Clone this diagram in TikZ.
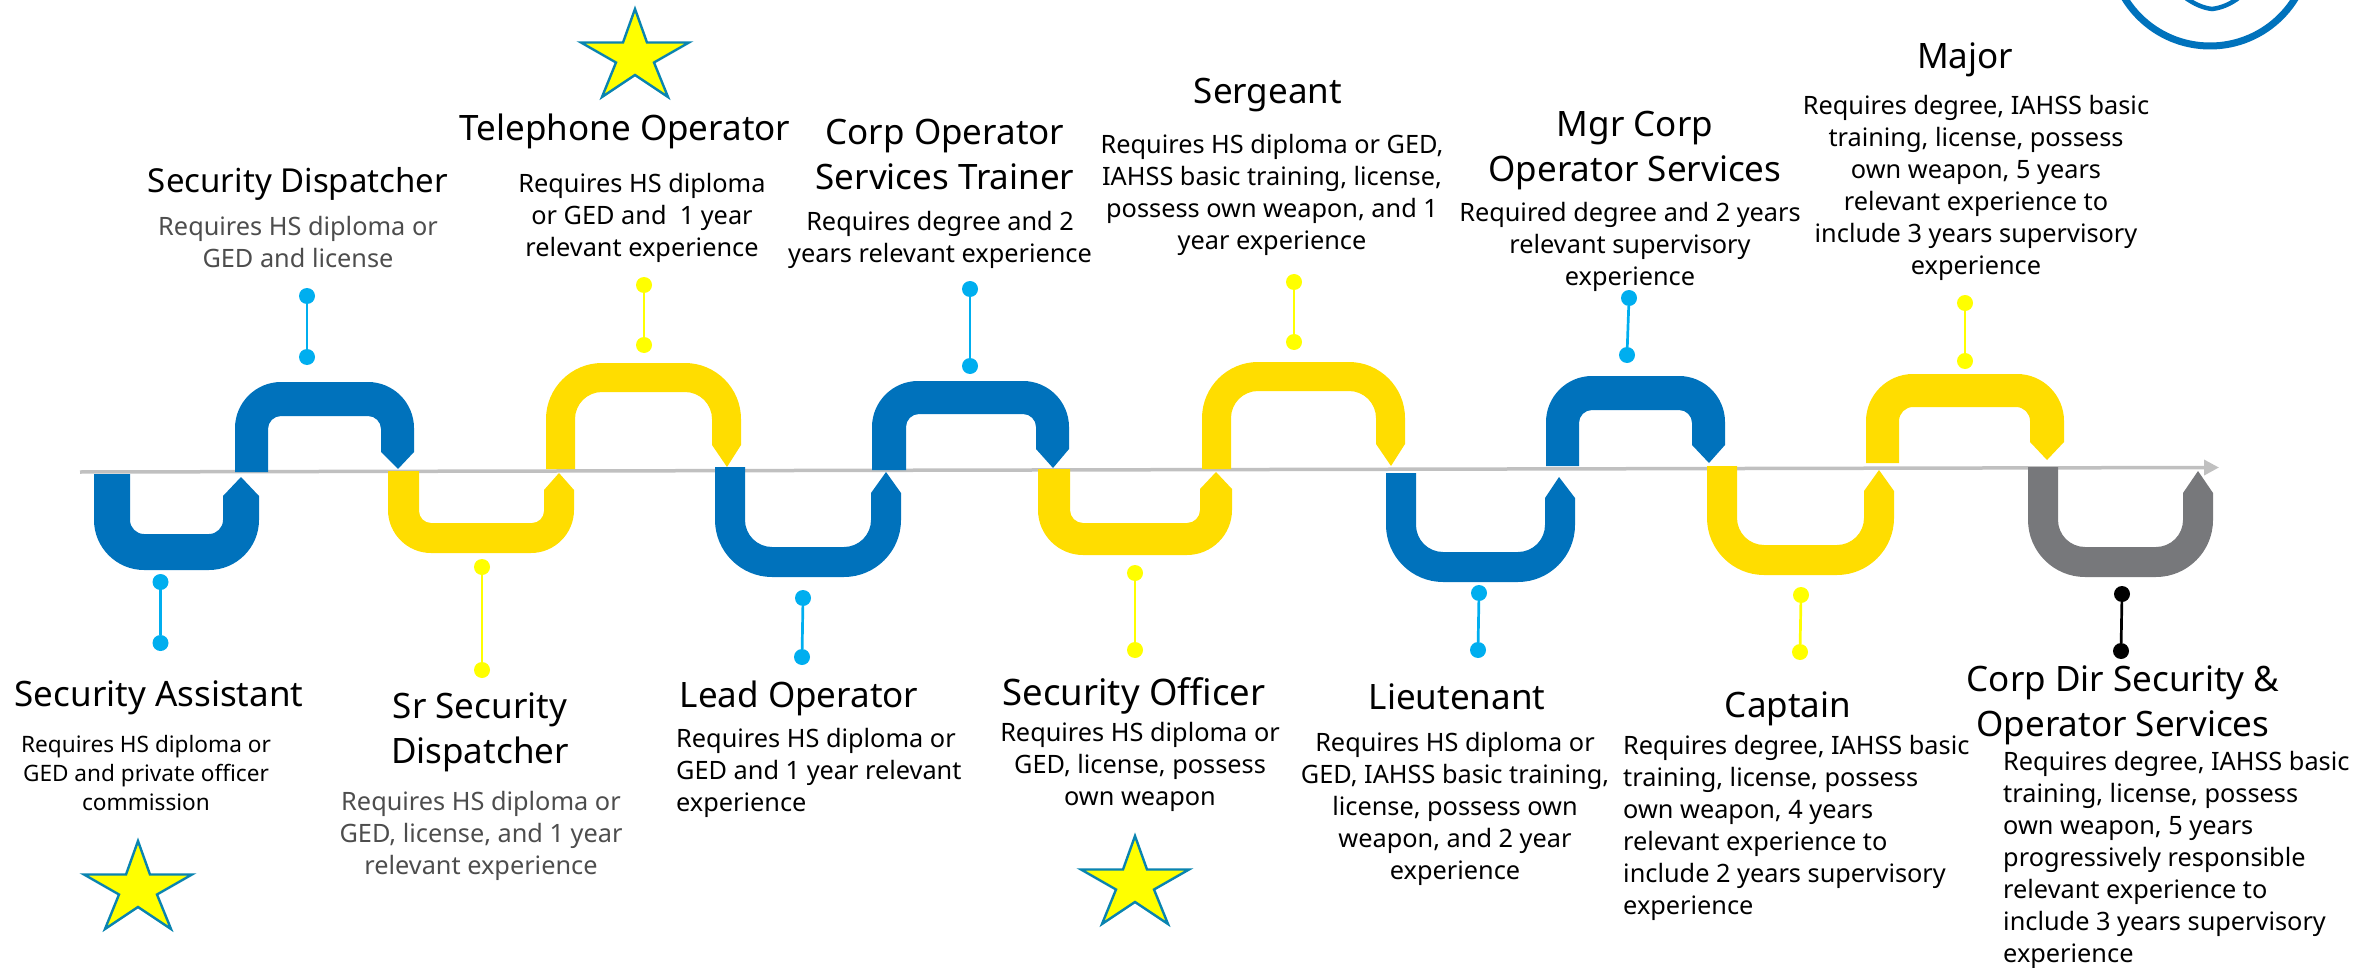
\documentclass[tikz,border=0pt]{standalone}
\usepackage{fontspec}
\setmainfont{Noto Sans}
\usetikzlibrary{arrows.meta}
\definecolor{cblue}{HTML}{0072BC}
\definecolor{cyel}{HTML}{FFDD00}
\definecolor{cgray}{HTML}{77787B}
\definecolor{caxis}{HTML}{C0C0C0}
\definecolor{dblue}{HTML}{00AEEF}
\definecolor{dyel}{HTML}{FFFF00}
\definecolor{cstar}{HTML}{0A84B0}
\definecolor{ctxt}{HTML}{4D4D4D}
\tikzset{
  title/.style={inner sep=0pt,align=center,yshift=-4pt,font=\fontsize{35}{45}\selectfont},
  bodyc/.style={inner sep=0pt,align=center,yshift=-3pt,font=\fontsize{25.3}{32}\selectfont},
  bodyl/.style={inner sep=0pt,align=left,anchor=west,yshift=-3pt,font=\fontsize{25.3}{32}\selectfont},
  bodys/.style={inner sep=0pt,align=center,yshift=-2pt,font=\fontsize{22.6}{29}\selectfont},
  grey/.style={text=ctxt},
  dotb/.style={circle,inner sep=0pt,minimum size=16pt,fill=dblue},
  doty/.style={circle,inner sep=0pt,minimum size=16pt,fill=dyel},
  dotk/.style={circle,inner sep=0pt,minimum size=16pt,fill=black},
  stemb/.style={draw=dblue,line width=2.7pt},
  stemy/.style={draw=dyel,line width=2.7pt},
  stemk/.style={draw=black,line width=2.7pt},
  starp/.style={fill=dyel,draw=cstar,line width=2.4pt,miter limit=10},
}
\newcommand{\starat}[2]{\draw[starp,shift={(#1,#2)}] (0,3) -- (12,36.5) -- (54,36.5) -- (19,56.5) -- (33,91) -- (0,69) -- (-33,91) -- (-19,56.5) -- (-54,36.5) -- (-12,36.5) -- cycle;}
\newcommand{\ubend}[7]{\def\ca{#1}\def\xa{#2}\def\xb{#3}\def\xc{#4}\def\xd{#5}\def\ye{#6}\def\yo{#7}\ubendb}
% yi Ro Ri tipx tipy sh
\newcommand{\ubendb}[6]{%
  \pgfmathsetmacro{\sg}{\yo>\ye ? 1 : -1}%
  \pgfmathsetmacro{\ka}{0.45*#2}\pgfmathsetmacro{\kb}{0.45*#3}%
  \pgfmathsetmacro{\ya}{\yo-\sg*#2}\pgfmathsetmacro{\yb}{\yo-\sg*\ka}%
  \pgfmathsetmacro{\yc}{#1-\sg*#3}\pgfmathsetmacro{\yd}{#1-\sg*\kb}%
  \fill[\ca] (\xa,\ye) -- (\xa,\ya) .. controls (\xa,\yb) and ({\xa+\ka},\yo) .. ({\xa+#2},\yo)
    -- ({\xd-#2},\yo) .. controls ({\xd-\ka},\yo) and (\xd,\yb) .. (\xd,\ya)
    -- (\xd,#6) -- (#4,#5) -- (\xc,#6)
    -- (\xc,\yc) .. controls (\xc,\yd) and ({\xc-\kb},#1) .. ({\xc-#3},#1)
    -- ({\xb+#3},#1) .. controls ({\xb+\kb},#1) and (\xb,\yd) .. (\xb,\yc)
    -- (\xb,\ye) -- cycle;}
\begin{document}
\begin{tikzpicture}[x=1pt,y=-1pt]
\useasboundingbox (0,0) rectangle (2376,968);
\begin{scope}
\clip (0,0) rectangle (2376,968);
\draw[cblue,line width=7pt] (2210,-54) circle[radius=100];
\draw[cblue,line width=4.5pt] (2183,-4) .. controls (2195,5) and (2204,8) .. (2212,9) .. controls (2220,8) and (2230,5) .. (2241,-4);
\end{scope}
% axis
\coordinate (axL) at (80,472);
\coordinate (axR) at (2219,467.5);
\draw[caxis,line width=3.5pt,-{Triangle[length=15pt,width=15pt]}] (axL) -- (axR);
% bends: xl xil xir xr yend yo | yi Ro Ri tipx tipy sh
\ubend{cblue}{94}{130}{223}{259}{474}{570}{534}{50}{14}{241}{477}{496}
\ubend{cblue}{235}{268}{381}{414}{472}{382}{416}{46}{13}{398}{469}{452}
\ubend{cyel}{388}{419}{544}{574}{471}{553}{523}{43}{12}{559}{473}{490}
\ubend{cyel}{546}{575}{712}{741}{469}{363}{392}{56}{27}{727}{467}{445}
\ubend{cblue}{715}{745}{871}{901}{467}{577}{547}{57}{27}{886}{472}{493}
\ubend{cblue}{872}{906}{1036}{1069}{470}{381}{414}{46}{13}{1053}{468}{449}
\ubend{cyel}{1038}{1070}{1200}{1232}{469}{555}{523}{45}{13}{1216}{472}{489}
\ubend{cyel}{1202}{1231}{1376}{1405}{469}{362}{391}{56}{27}{1391}{466}{444}
\ubend{cblue}{1386}{1416}{1545}{1575}{473}{582}{552}{57}{27}{1559}{477}{498}
\ubend{cblue}{1546}{1579}{1692}{1725}{466}{376}{410}{46}{13}{1709}{463}{445}
\ubend{cyel}{1707}{1737}{1864}{1894}{466}{575}{545}{57}{27}{1879}{470}{491}
\ubend{cyel}{1866}{1899}{2030}{2064}{463}{374}{407}{47}{14}{2047}{460}{442}
\ubend{cgray}{2028}{2058}{2183}{2213}{467}{577}{547}{57}{27}{2198}{471}{493}
% lollipops
\node[dotb] (a1) at (160.5,582) {}; \node[dotb] (a2) at (160.5,643) {}; \draw[stemb] (a1) -- (a2);
\node[dotb] (b1) at (307,296) {}; \node[dotb] (b2) at (307,357) {}; \draw[stemb] (b1) -- (b2);
\node[doty] (c1) at (482,567) {}; \node[doty] (c2) at (482,670) {}; \draw[stemy] (c1) -- (c2);
\node[doty] (d1) at (644,285) {}; \node[doty] (d2) at (644,345) {}; \draw[stemy] (d1) -- (d2);
\node[dotb] (e1) at (803,598) {}; \node[dotb] (e2) at (802,657) {}; \draw[stemb] (e1) -- (e2);
\node[dotb] (f1) at (970,289) {}; \node[dotb] (f2) at (970,366) {}; \draw[stemb] (f1) -- (f2);
\node[doty] (g1) at (1135,573) {}; \node[doty] (g2) at (1135,650) {}; \draw[stemy] (g1) -- (g2);
\node[doty] (h1) at (1294,282) {}; \node[doty] (h2) at (1294,342) {}; \draw[stemy] (h1) -- (h2);
\node[dotb] (i1) at (1479,593) {}; \node[dotb] (i2) at (1478,650) {}; \draw[stemb] (i1) -- (i2);
\node[dotb] (j1) at (1629,298) {}; \node[dotb] (j2) at (1627,355) {}; \draw[stemb] (j1) -- (j2);
\node[doty] (k1) at (1801,595) {}; \node[doty] (k2) at (1800,652) {}; \draw[stemy] (k1) -- (k2);
\node[doty] (l1) at (1965,303) {}; \node[doty] (l2) at (1965,361) {}; \draw[stemy] (l1) -- (l2);
\node[dotk] (m1) at (2122,594) {}; \node[dotk] (m2) at (2121,651) {}; \draw[stemk] (m1) -- (m2);
% stars
\starat{138}{838}
\starat{635}{6}
\starat{1135}{833}
% titles and bodies
\node[title] (t1) at (159,694) {Security Assistant};
\node[bodys] (b1t) at (146,771) {Requires HS diploma or\\GED and private officer\\commission};
\node[title,font=\fontsize{33}{45}\selectfont] (t2) at (298,180) {Security Dispatcher};
\node[bodyc,grey] (b2t) at (298,239) {Requires HS diploma or\\GED and license};
\node[title] (t3) at (480,728) {Sr Security\\Dispatcher};
\node[bodyc,grey] (b3t) at (481,833) {Requires HS diploma or\\GED, license, and 1 year\\relevant experience};
\node[title] (t4) at (625,127) {Telephone Operator};
\node[bodyc] (b4t) at (642,215) {Requires HS diploma\\or GED and\ \ 1 year\\relevant experience};
\node[title] (t5) at (799,694) {Lead Operator};
\node[bodyl] (b5t) at (676,770) {Requires HS diploma or\\GED and 1 year relevant\\experience};
\node[title] (t6) at (945,150) {Corp Operator\\Services Trainer};
\node[bodyc] (b6t) at (940,237) {Requires degree and 2\\years relevant experience};
\node[title,font=\fontsize{36.5}{45}\selectfont] (t7) at (1134,692) {Security Officer};
\node[bodyc] (b7t) at (1140,764) {Requires HS diploma or\\GED, license, possess\\own weapon};
\node[title] (t8) at (1268,91) {Sergeant};
\node[bodyc] (b8t) at (1272,192) {Requires HS diploma or GED,\\IAHSS basic training, license,\\possess own weapon, and 1\\year experience};
\node[title] (t9) at (1457,693) {Lieutenant};
\node[bodyc] (b9t) at (1455,806) {Requires HS diploma or\\GED, IAHSS basic training,\\license, possess own\\weapon, and 2 year\\experience};
\node[title] (t10) at (1635,147) {Mgr Corp\\Operator Services};
\node[bodyc] (b10t) at (1630,244) {Required degree and 2 years\\relevant supervisory\\experience};
\node[title] (t11) at (1788,705) {Captain};
\node[bodyl] (b11t) at (1623,825) {Requires degree, IAHSS basic\\training, license, possess\\own weapon, 4 years\\relevant experience to\\include 2 years supervisory\\experience};
\node[title] (t12) at (1965,56) {Major};
\node[bodyc] (b12t) at (1976,185) {Requires degree, IAHSS basic\\training, license, possess\\own weapon, 5 years\\relevant experience to\\include 3 years supervisory\\experience};
\node[title] (t13) at (2123,701) {Corp Dir Security \&\\Operator Services};
\node[bodyl] (b13t) at (2003,857) {Requires degree, IAHSS basic\\training, license, possess\\own weapon, 5 years\\progressively responsible\\relevant experience to\\include 3 years supervisory\\experience};
\end{tikzpicture}
\end{document}
